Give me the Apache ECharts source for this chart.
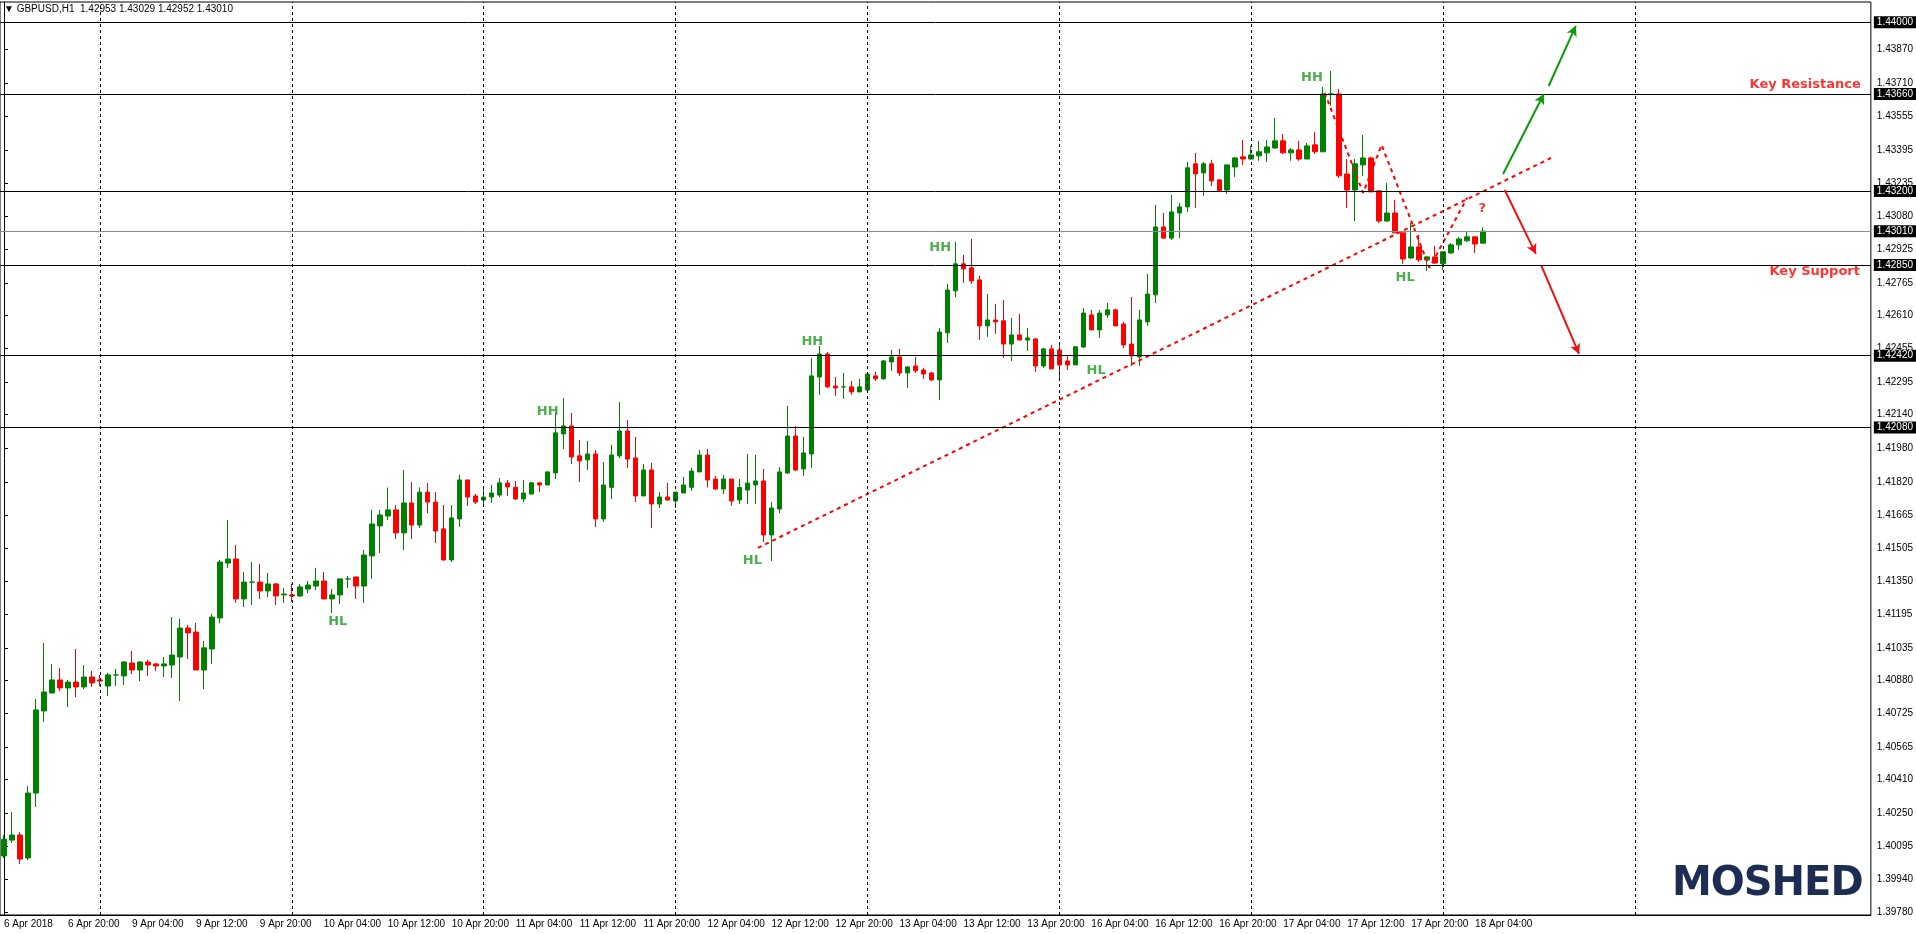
<!DOCTYPE html>
<html>
<head>
<meta charset="utf-8">
<script src="https://cdn.jsdelivr.net/npm/echarts@6/dist/echarts.min.js"></script>
<style>
html,body{margin:0;padding:0;background:#fff;}
#chart{width:1916px;height:934px;}
#title{position:absolute;left:4px;top:3px;font:10px "Liberation Sans",sans-serif;color:#000;z-index:5;}
</style>
</head>
<body>
<div id="title">&#9660; GBPUSD,H1&nbsp; 1.42953 1.43029 1.42952 1.43010</div>
<div id="chart"></div>
<script>
// H1 candles
var opens=[1.40049,1.40124,1.40148,1.40039,1.40347,1.40736,1.40821,1.40883,1.40845,1.40873,
1.40850,1.40897,1.40883,1.40854,1.40907,1.40902,1.40963,1.40930,1.40968,1.40959,
1.40949,1.40954,1.40992,1.41129,1.41110,1.40930,1.41030,1.41177,1.41437,1.41456,
1.41267,1.41347,1.41347,1.41305,1.41338,1.41286,1.41286,1.41281,1.41314,1.41328,
1.41352,1.41267,1.41286,1.41362,1.41371,1.41328,1.41471,1.41613,1.41660,1.41689,
1.41580,1.41722,1.41617,1.41773,1.41726,1.41599,1.41452,1.41646,1.41831,1.41755,
1.41736,1.41750,1.41759,1.41816,1.41796,1.41741,1.41764,1.41817,1.41807,1.41864,
1.42049,1.42087,1.41945,1.41926,1.41954,1.41646,1.41796,1.41945,1.42063,1.41935,
1.41755,1.41878,1.41717,1.41750,1.41731,1.41769,1.41796,1.41869,1.41949,1.41835,
1.41788,1.41835,1.41736,1.41783,1.41807,1.41826,1.41570,1.41693,1.41864,1.42039,
1.41883,1.41954,1.42319,1.42428,1.42276,1.42272,1.42272,1.42248,1.42257,1.42324,
1.42310,1.42390,1.42414,1.42338,1.42371,1.42352,1.42338,1.42305,1.42528,1.42727,
1.42855,1.42836,1.42779,1.42561,1.42589,1.42585,1.42475,1.42518,1.42494,1.42499,
1.42371,1.42452,1.42447,1.42395,1.42376,1.42461,1.42613,1.42542,1.42613,1.42637,
1.42570,1.42475,1.42414,1.42580,1.42708,1.43030,1.42977,1.43096,1.43125,1.43329,
1.43286,1.43329,1.43253,1.43205,1.43314,1.43362,1.43352,1.43367,1.43381,1.43404,
1.43438,1.43381,1.43395,1.43352,1.43419,1.43386,1.43660,1.43660,1.43281,1.43205,
1.43324,1.43357,1.43201,1.43058,1.43096,1.43002,1.42883,1.42935,1.42874,1.42888,
1.42855,1.42907,1.42945,1.42964,1.42983,1.42953];
var closes=[1.40128,1.40148,1.40034,1.40347,1.40741,1.40826,1.40883,1.40845,1.40873,1.40850,
1.40897,1.40869,1.40878,1.40907,1.40907,1.40968,1.40930,1.40968,1.40954,1.40949,
1.40959,1.41001,1.41129,1.41106,1.40930,1.41035,1.41181,1.41442,1.41456,1.41267,
1.41347,1.41347,1.41305,1.41338,1.41281,1.41290,1.41281,1.41324,1.41333,1.41352,
1.41267,1.41286,1.41362,1.41362,1.41328,1.41475,1.41622,1.41665,1.41689,1.41580,
1.41722,1.41617,1.41773,1.41726,1.41589,1.41452,1.41651,1.41831,1.41750,1.41726,
1.41750,1.41769,1.41817,1.41798,1.41741,1.41769,1.41817,1.41807,1.41869,1.42054,
1.42087,1.41940,1.41921,1.41954,1.41646,1.41807,1.41949,1.42063,1.41930,1.41755,
1.41878,1.41717,1.41750,1.41736,1.41773,1.41807,1.41873,1.41949,1.41831,1.41788,
1.41835,1.41731,1.41795,1.41816,1.41826,1.41570,1.41698,1.41869,1.42039,1.41878,
1.41959,1.42324,1.42428,1.42272,1.42267,1.42272,1.42248,1.42272,1.42333,1.42310,
1.42395,1.42414,1.42338,1.42366,1.42348,1.42333,1.42305,1.42532,1.42731,1.42855,
1.42831,1.42774,1.42561,1.42589,1.42580,1.42475,1.42518,1.42494,1.42504,1.42371,
1.42452,1.42357,1.42376,1.42376,1.42462,1.42622,1.42542,1.42622,1.42637,1.42561,
1.42471,1.42419,1.42589,1.42712,1.43030,1.42977,1.43101,1.43125,1.43310,1.43281,
1.43329,1.43248,1.43201,1.43324,1.43357,1.43352,1.43371,1.43386,1.43409,1.43438,
1.43381,1.43395,1.43352,1.43414,1.43386,1.43660,1.43660,1.43272,1.43205,1.43329,
1.43357,1.43196,1.43058,1.43096,1.43002,1.42878,1.42935,1.42874,1.42888,1.42859,
1.42912,1.42945,1.42973,1.42983,1.42949,1.43010];
var lows=[1.40039,1.40110,1.40011,1.40030,1.40281,1.40684,1.40821,1.40831,1.40755,1.40802,
1.40840,1.40850,1.40854,1.40807,1.40854,1.40859,1.40911,1.40878,1.40902,1.40926,
1.40897,1.40892,1.40783,1.40982,1.40930,1.40840,1.40959,1.41153,1.41414,1.41248,
1.41229,1.41238,1.41267,1.41276,1.41238,1.41248,1.41253,1.41276,1.41295,1.41309,
1.41267,1.41200,1.41243,1.41319,1.41267,1.41248,1.41362,1.41485,1.41641,1.41551,
1.41499,1.41551,1.41603,1.41674,1.41532,1.41447,1.41442,1.41608,1.41708,1.41717,
1.41712,1.41722,1.41750,1.41755,1.41736,1.41726,1.41764,1.41773,1.41807,1.41835,
1.41978,1.41907,1.41821,1.41878,1.41608,1.41632,1.41741,1.41935,1.41888,1.41726,
1.41755,1.41603,1.41698,1.41731,1.41698,1.41769,1.41779,1.41869,1.41795,1.41783,
1.41764,1.41708,1.41717,1.41717,1.41717,1.41537,1.41447,1.41674,1.41859,1.41873,
1.41850,1.41888,1.42234,1.42267,1.42229,1.42215,1.42234,1.42248,1.42243,1.42300,
1.42305,1.42348,1.42324,1.42267,1.42338,1.42310,1.42300,1.42210,1.42480,1.42698,
1.42765,1.42760,1.42494,1.42509,1.42523,1.42409,1.42395,1.42494,1.42442,1.42343,
1.42362,1.42357,1.42300,1.42352,1.42376,1.42456,1.42542,1.42504,1.42599,1.42561,
1.42456,1.42371,1.42371,1.42561,1.42670,1.42973,1.42968,1.42977,1.43101,1.43120,
1.43177,1.43224,1.43196,1.43186,1.43267,1.43324,1.43348,1.43343,1.43338,1.43400,
1.43376,1.43343,1.43343,1.43352,1.43376,1.43386,1.43604,1.43262,1.43120,1.43058,
1.43272,1.43196,1.43049,1.43054,1.43002,1.42855,1.42878,1.42864,1.42822,1.42855,
1.42826,1.42902,1.42921,1.42959,1.42907,1.42952];
var highs=[1.40148,1.40257,1.40162,1.40380,1.40793,1.41058,1.40959,1.40940,1.40883,1.41030,
1.40954,1.40926,1.40907,1.40916,1.40935,1.40973,1.41020,1.40973,1.40978,1.40963,
1.40992,1.41181,1.41173,1.41144,1.41153,1.41068,1.41196,1.41452,1.41641,1.41523,
1.41395,1.41442,1.41433,1.41390,1.41343,1.41319,1.41338,1.41338,1.41352,1.41414,
1.41395,1.41314,1.41362,1.41376,1.41371,1.41499,1.41689,1.41689,1.41795,1.41712,
1.41878,1.41821,1.41796,1.41816,1.41773,1.41712,1.41712,1.41855,1.41831,1.41764,
1.41795,1.41807,1.41840,1.41831,1.41826,1.41831,1.41821,1.41817,1.41869,1.42148,
1.42219,1.42148,1.42020,1.42016,1.41973,1.41916,1.41997,1.42200,1.42115,1.42035,
1.41907,1.41911,1.41773,1.41817,1.41773,1.41845,1.41888,1.41973,1.41978,1.41850,
1.41855,1.41835,1.41835,1.41954,1.41949,1.41883,1.41726,1.41892,1.42182,1.42087,
1.42035,1.42409,1.42466,1.42437,1.42319,1.42338,1.42300,1.42310,1.42333,1.42343,
1.42400,1.42447,1.42452,1.42371,1.42414,1.42362,1.42343,1.42551,1.42760,1.42959,
1.42897,1.42973,1.42798,1.42712,1.42665,1.42684,1.42599,1.42618,1.42551,1.42504,
1.42456,1.42471,1.42475,1.42419,1.42466,1.42646,1.42637,1.42637,1.42670,1.42641,
1.42580,1.42698,1.42637,1.42807,1.43134,1.43096,1.43182,1.43144,1.43338,1.43381,
1.43338,1.43348,1.43253,1.43324,1.43362,1.43442,1.43414,1.43438,1.43442,1.43547,
1.43470,1.43404,1.43438,1.43428,1.43480,1.43694,1.43769,1.43684,1.43352,1.43352,
1.43466,1.43362,1.43201,1.43239,1.43158,1.43002,1.43049,1.42992,1.42893,1.42940,
1.42912,1.42954,1.42983,1.43011,1.42983,1.43029];

// right axis tick labels
var yTicks=[1.39780,1.39940,1.40095,1.40250,1.40410,1.40565,1.40725,1.40880,1.41035,1.41195,
1.41350,1.41505,1.41665,1.41820,1.41980,1.42140,1.42295,1.42455,1.42610,1.42765,1.42925,
1.43080,1.43235,1.43395,1.43555,1.43710,1.43870];
// levels drawn as lines with boxed labels
var levels=[1.44000,1.43660,1.43200,1.42850,1.42420,1.42080];
var bidLevel=1.43010;
var dayStarts=[12,36,60,84,108,132,156,180,204];

var markers=[[41.75,1.41158,'HL'],[68,1.42153,'HH'],[93.6,1.41447,'HL'],[101.1,1.42485,'HH'],
[117.1,1.42930,'HH'],[136.6,1.42347,'HL'],[163.6,1.43736,'HH'],[175.25,1.42788,'HL']];
var questionMark=[[184.9,1.43115,'?']];
var keyTexts=[[232.3,1.43703,'Key Resistance'],[232.2,1.42817,'Key Support']];

var trendLine=[[94.3,1.41509],[193.5,1.43357]];
var zigzag=[[165.2,1.43665],[170,1.43191],[172.3,1.43419],[178.3,1.42836],[183,1.43168]];
var greenArrows=[[[187.5,1.43281],[192.6,1.43660]],[[193.2,1.43698],[196.6,1.43983]]];
var redArrows=[[[187.7,1.43205],[191.6,1.42902]],[[192.3,1.42845],[197,1.42428]]];

var NBARS=234;
var cats=[];
(function(){
  var days=[6,9,10,11,12,13,16,17,18,19,20];
  var d=0,h=12;
  for(var i=0;i<NBARS;i++){
    cats.push(days[d]+' Apr '+(h<10?'0':'')+h+':00');
    h++; if(h==24){h=0;d++;}
  }
})();

var candles=opens.map(function(o,i){return [o,closes[i],lows[i],highs[i]];});
var GREEN='#008000',RED='#ff0000',TXTG='#1f9a1f';
var font='"Liberation Sans", sans-serif';
var boldFont='"DejaVu Sans", sans-serif';

var hLines=levels.map(function(v){
  return {yAxis:v,lineStyle:{color:'#000',type:'solid',width:1}};
});
hLines.push({yAxis:bidLevel,lineStyle:{color:'#8c8c8c',type:'solid',width:1}});
var vLines=dayStarts.map(function(x){
  return {xAxis:x,label:{show:false},lineStyle:{color:'#000',type:[3,3],width:1}};
});
function arrowLines(list,color){
  return {
    type:'line',xAxisIndex:1,data:[],
    markLine:{silent:true,precision:5,symbol:['none','arrow'],symbolSize:[8,10],animation:false,
      label:{show:false},lineStyle:{color:color,width:2,type:'solid'},
      data:list.map(function(s){return [{coord:s[0]},{coord:s[1]}];})}
  };
}

var chart=echarts.init(document.getElementById('chart'));
chart.setOption({
  animation:false,
  grid:{left:0,right:44,top:2,bottom:19,show:true,borderColor:'#000',borderWidth:1,backgroundColor:'#fff'},
  xAxis:[{
    type:'category',data:cats,boundaryGap:true,
    axisLine:{lineStyle:{color:'#000'}},
    axisTick:{interval:7,alignWithLabel:true,length:3,lineStyle:{color:'#000'}},
    axisLabel:{interval:7,align:'left',margin:4,fontSize:10,fontFamily:font,color:'#000',
      formatter:function(v,i){if(i>185)return ''; return i===0?'6 Apr 2018':v;}},
    splitLine:{show:false}
  },{
    type:'value',min:-0.5,max:NBARS-0.5,show:false
  }],
  yAxis:{
    type:'value',position:'right',min:1.39769,max:1.44096,scale:true,
    axisLine:{show:true,lineStyle:{color:'#000'}},
    axisTick:{show:true,length:4,customValues:yTicks,lineStyle:{color:'#000'}},
    axisLabel:{customValues:yTicks,margin:6,fontSize:10,fontFamily:font,color:'#000',
      formatter:function(v){return v.toFixed(5);}},
    splitLine:{show:false}
  },
  series:[
    {
      type:'candlestick',data:candles,barWidth:5,
      itemStyle:{color:GREEN,color0:RED,borderColor:GREEN,borderColor0:RED,borderWidth:1}
    },
    {
      type:'line',xAxisIndex:1,data:[],
      markLine:{silent:true,precision:5,symbol:'none',animation:false,
        label:{show:true,position:'end',distance:3,formatter:function(p){return Number(p.value).toFixed(5);},
          backgroundColor:'#000',color:'#fff',fontSize:10,fontFamily:font,padding:[1,3,1,3]},
        data:hLines.concat(vLines)}
    },
    {
      type:'line',xAxisIndex:1,data:trendLine,symbol:'none',z:4,
      lineStyle:{color:RED,width:2,type:[4,4]}
    },
    {
      type:'line',xAxisIndex:1,data:zigzag,symbol:'none',z:4,
      lineStyle:{color:RED,width:2,type:[4,4]}
    },
    arrowLines(greenArrows,'#0a9a0a'),
    arrowLines(redArrows,'#ee1111'),
    {
      type:'scatter',xAxisIndex:1,data:markers,symbolSize:1,itemStyle:{color:'rgba(0,0,0,0)'},z:6,
      label:{show:true,position:'inside',formatter:function(p){return p.data[2];},
        color:TXTG,fontSize:13,fontWeight:'bold',fontFamily:boldFont}
    },
    {
      type:'scatter',xAxisIndex:1,data:questionMark,symbolSize:1,itemStyle:{color:'rgba(0,0,0,0)'},z:6,
      label:{show:true,position:'inside',formatter:function(p){return p.data[2];},
        color:RED,fontSize:13,fontWeight:'bold',fontFamily:boldFont}
    },
    {
      type:'scatter',xAxisIndex:1,data:keyTexts,symbolSize:1,itemStyle:{color:'rgba(0,0,0,0)'},z:6,
      label:{show:true,position:'left',distance:0,formatter:function(p){return p.data[2];},
        color:RED,fontSize:13,fontWeight:'bold',fontFamily:boldFont}
    }
  ]
});
</script>
<div style="position:absolute;left:1672px;top:858px;font:bold 40px 'DejaVu Sans',sans-serif;color:#1c2c52;letter-spacing:-1px;">MOSHED</div>
</body>
</html>
